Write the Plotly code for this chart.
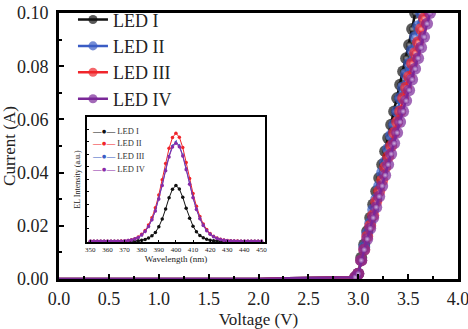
import plotly.graph_objects as go

# ---------------- data ----------------
names = ["LED I", "LED II", "LED III", "LED IV"]

# low-voltage part (shared)
low_v = [0.0, 0.5, 1.0, 1.5, 2.0, 2.3, 2.5, 2.7, 2.9]
low_i = [0.0, 0.0, 0.0, 0.0, 0.0, 0.0003, 0.0004, 0.0005, 0.0006]

# turn-on part
v_on = [2.97, 3.00, 3.03, 3.06, 3.09, 3.12, 3.15, 3.18, 3.21, 3.24, 3.27, 3.30,
        3.33, 3.36, 3.39, 3.42, 3.45, 3.48, 3.51, 3.54, 3.57, 3.60, 3.63, 3.66,
        3.69, 3.72, 3.75, 3.78]
i_led1 = [0.0007, 0.002, 0.008, 0.013, 0.018, 0.023, 0.028, 0.033, 0.038, 0.043, 0.048, 0.053,
          0.058, 0.063, 0.068, 0.073, 0.078, 0.083, 0.088, 0.094, 0.100, 0.106, 0.112, 0.118,
          0.124, 0.130, 0.136, 0.142]
i_led2 = [0.0007, 0.002, 0.007, 0.012, 0.017, 0.021, 0.026, 0.030, 0.035, 0.040, 0.044, 0.049,
          0.054, 0.058, 0.063, 0.068, 0.072, 0.077, 0.081, 0.086, 0.091, 0.095, 0.100, 0.105,
          0.110, 0.115, 0.120, 0.125]
i_led3 = [0.0007, 0.002, 0.007, 0.011, 0.016, 0.020, 0.024, 0.029, 0.033, 0.037, 0.042, 0.046,
          0.050, 0.055, 0.059, 0.063, 0.068, 0.072, 0.076, 0.081, 0.085, 0.089, 0.094, 0.098,
          0.103, 0.107, 0.112, 0.116]
i_led4 = [0.0007, 0.002, 0.007, 0.011, 0.015, 0.019, 0.023, 0.027, 0.031, 0.035, 0.039, 0.043,
          0.047, 0.051, 0.055, 0.059, 0.063, 0.067, 0.071, 0.075, 0.079, 0.083, 0.087, 0.091,
          0.096, 0.100, 0.104, 0.108]
iv_currents = [i_led1, i_led2, i_led3, i_led4]

# EL spectra (inset)
wl = [350, 352, 354, 356, 358, 360, 362, 364, 366, 368, 370, 372, 374, 376, 378, 380,
      382, 384, 386, 388, 390, 392, 394, 396, 398, 400, 402, 404, 406, 408, 410, 412,
      414, 416, 418, 420, 422, 424, 426, 428, 430, 432, 434, 436, 438, 440, 442, 444,
      446, 448, 450]
el_1 = [0, 0, 0, 0, 0, 0, 0, 0, 0,
        0, 0, 0.001, 0.001, 0.002, 0.005, 0.009, 0.016, 0.027, 0.045, 0.072, 0.117, 0.180, 0.261, 0.351, 0.419,
        0.450,
        0.421, 0.355, 0.267, 0.186, 0.122, 0.077, 0.048, 0.029, 0.017, 0.010, 0.006, 0.003, 0.002, 0.001, 0.001, 0.0,
        0, 0, 0, 0, 0, 0, 0, 0, 0]
el_2 = [0.001, 0.001, 0.001, 0.001, 0.001, 0.001, 0.001, 0.002, 0.002,
        0.003, 0.004, 0.008, 0.013, 0.022, 0.035, 0.057, 0.087, 0.131, 0.191, 0.270, 0.374, 0.496, 0.626, 0.748, 0.835,
        0.870,
        0.838, 0.755, 0.635, 0.506, 0.385, 0.282, 0.201, 0.140, 0.095, 0.063, 0.041, 0.027, 0.017, 0.011, 0.007, 0.005,
        0.004, 0.003, 0.002, 0.002, 0.001, 0.001, 0.001, 0.001, 0.001]
el_3 = [0.001, 0.001, 0.001, 0.001, 0.001, 0.001, 0.001, 0.002, 0.002,
        0.002, 0.004, 0.007, 0.012, 0.020, 0.032, 0.052, 0.080, 0.120, 0.176, 0.248, 0.344, 0.456, 0.576, 0.688, 0.768,
        0.800,
        0.770, 0.694, 0.584, 0.465, 0.354, 0.259, 0.185, 0.129, 0.087, 0.058, 0.038, 0.025, 0.016, 0.010, 0.006, 0.004,
        0.003, 0.002, 0.002, 0.001, 0.001, 0.001, 0.001, 0.001, 0.001]
el_4 = [0.001, 0.001, 0.001, 0.001, 0.001, 0.001, 0.001, 0.002, 0.002,
        0.002, 0.004, 0.007, 0.012, 0.020, 0.032, 0.051, 0.079, 0.119, 0.174, 0.245, 0.340, 0.450, 0.569, 0.679, 0.758,
        0.790,
        0.761, 0.686, 0.577, 0.460, 0.350, 0.256, 0.183, 0.128, 0.086, 0.057, 0.037, 0.024, 0.015, 0.009, 0.006, 0.004,
        0.003, 0.002, 0.002, 0.001, 0.001, 0.001, 0.001, 0.001, 0.001]
el_series = [el_1, el_2, el_3, el_4]

main_x_ticks = [0.0, 0.5, 1.0, 1.5, 2.0, 2.5, 3.0, 3.5, 4.0]
main_y_ticks = [0.00, 0.02, 0.04, 0.06, 0.08, 0.10]
inset_x_ticks = [350, 360, 370, 380, 390, 400, 410, 420, 430, 440, 450]

# ---------------- style ----------------
FONT = "Liberation Serif, Times New Roman, serif"
main_colors = ["#111111", "#3a5cc4", "#f0252b", "#7a2898"]
inset_colors = ["#111111", "#f0252b", "#3a5cc4", "#8a2aa8"]
inset_symbols = ["circle", "circle", "triangle-left", "circle"]

fig = go.Figure()

for k in range(4):
    xs = low_v + v_on
    ys = low_i + iv_currents[k]
    sizes = [0] * len(low_v) + [12] * len(v_on)
    hl = [0] * len(low_v) + [6] * len(v_on)
    fig.add_trace(go.Scatter(
        x=xs, y=ys, mode="lines+markers", name=names[k], legendgroup=names[k],
        line=dict(color=main_colors[k], width=2.5),
        marker=dict(color=main_colors[k], size=sizes, line=dict(width=0)),
        legend="legend",
    ))
    fig.add_trace(go.Scatter(
        x=xs, y=ys, mode="markers", showlegend=False, legendgroup=names[k], hoverinfo="skip",
        marker=dict(color=main_colors[k], size=hl, line=dict(width=0),
                    gradient=dict(type="radial", color="#f4f4ff")),
    ))

for k in range(4):
    fig.add_trace(go.Scatter(
        x=wl, y=el_series[k], mode="lines+markers", name=names[k],
        xaxis="x2", yaxis="y2", showlegend=False,
        line=dict(color=inset_colors[k], width=1),
        marker=dict(color=inset_colors[k], size=3.5, symbol=inset_symbols[k]),
    ))

# inset legend written as text (tight line spacing as in the original)
inset_leg_y = [0.556, 0.511, 0.463, 0.414]
for k in range(4):
    fig.add_annotation(
        xref="paper", yref="paper", x=0.078, y=inset_leg_y[k], xanchor="left", yanchor="middle",
        showarrow=False,
        text=f"<span style='color:{inset_colors[k]}'>—●—</span> {names[k]}",
        font=dict(size=8.5, family=FONT, color="#333333"),
    )

axis_common = dict(showline=True, linecolor="black", mirror=True, showgrid=False,
                   zeroline=False, ticks="inside", tickcolor="black")

fig.update_layout(
    width=468, height=329,
    margin=dict(l=59, r=10, t=13, b=50, autoexpand=False),
    paper_bgcolor="white", plot_bgcolor="white",
    font=dict(family=FONT, color="#222222"),
    xaxis=dict(**axis_common, range=[0, 4], tickvals=main_x_ticks,
               ticktext=[f"{v:.1f}" for v in main_x_ticks],
               linewidth=3, ticklen=5, tickwidth=2, ticklabelstandoff=1,
               ticklabeloverflow="allow",
               minor=dict(ticks="inside", ticklen=3, dtick=0.25, tickcolor="black", tickwidth=2),
               tickfont=dict(size=18, family=FONT),
               title=dict(text="Voltage (V)", font=dict(size=17, family=FONT), standoff=10),
               domain=[0, 1]),
    yaxis=dict(**axis_common, range=[0, 0.1], tickvals=main_y_ticks,
               ticktext=[f"{v:.2f}" for v in main_y_ticks],
               linewidth=3, ticklen=5, tickwidth=2, ticklabelstandoff=4,
               ticklabeloverflow="allow",
               minor=dict(ticks="inside", ticklen=3, dtick=0.01, tickcolor="black", tickwidth=2),
               tickfont=dict(size=18, family=FONT),
               title=dict(text="Current (A)", font=dict(size=17, family=FONT), standoff=4),
               domain=[0, 1]),
    xaxis2=dict(**axis_common, range=[348, 452], tickvals=inset_x_ticks,
                ticktext=[str(v) for v in inset_x_ticks],
                linewidth=1.5, ticklen=2, tickwidth=1,
                tickfont=dict(size=7, family=FONT),
                title=dict(text="Wavelength (nm)", font=dict(size=9, family=FONT), standoff=1),
                domain=[0.070, 0.516], anchor="y2"),
    yaxis2=dict(**axis_common, range=[-0.005, 1.0], showticklabels=False,
                dtick=0.1, linewidth=1.5, ticklen=2, tickwidth=1,
                title=dict(text="EL Intensity (a.u.)", font=dict(size=8, family=FONT), standoff=3),
                domain=[0.139, 0.609], anchor="x2"),
    legend=dict(x=0.035, y=1.044, xanchor="left", yanchor="top", bgcolor="rgba(0,0,0,0)",
                font=dict(size=18, family=FONT, color="#222222"), tracegroupgap=0,
                itemwidth=30),
    showlegend=True,
)

fig.write_html("out.html")
